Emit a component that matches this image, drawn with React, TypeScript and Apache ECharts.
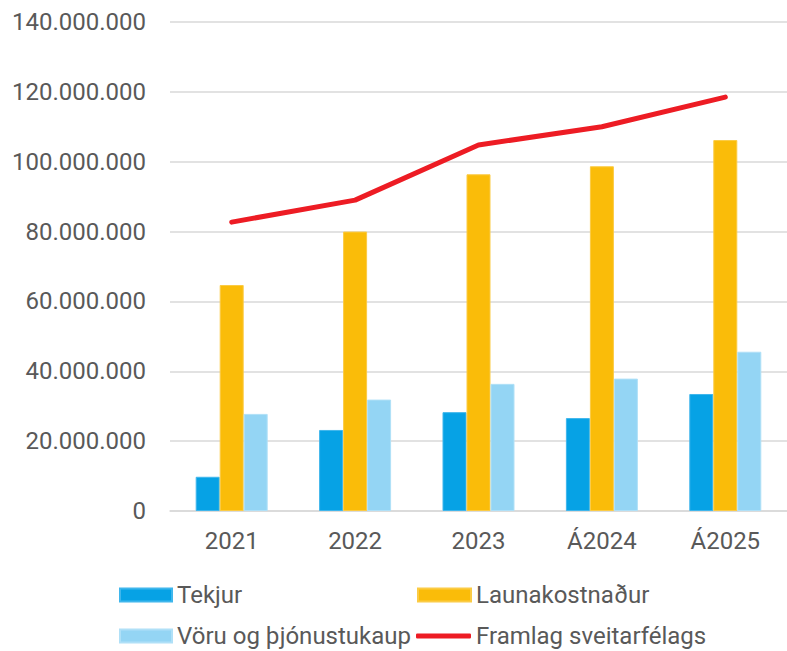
import React, { useEffect, useRef } from "react";
import * as echarts from "echarts";

// Categories on the x axis
const years = ["2021", "2022", "2023", "Á2024", "Á2025"];

// Series values (ISK)
const tekjur = [9800000, 23200000, 28300000, 26600000, 33500000];
const launakostnadur = [64700000, 80000000, 96400000, 98700000, 106200000];
const voruOgThjonustukaup = [27800000, 31900000, 36400000, 37900000, 45600000];
const framlagSveitarfelags = [82700000, 89000000, 104800000, 110000000, 118500000];

// Value axis range
const yMin = 0;
const yMax = 140000000;
const yStep = 20000000;

const FONT = "Roboto, 'Noto Sans', sans-serif";
const TEXT = "#595959";

const formatIs = (v: number) =>
  String(Math.round(v)).replace(/\B(?=(\d{3})+(?!\d))/g, ".");

// One legend entry per block so the 2x2 layout is placed exactly
const legendItem = (
  name: string,
  left: number,
  top: number,
  icon: string,
  itemWidth: number,
  itemHeight: number
) => ({
  data: [{ name, icon }],
  left,
  top,
  padding: 0,
  itemWidth,
  itemHeight,
  selectedMode: false,
  textStyle: {
    fontFamily: FONT,
    fontSize: 24,
    color: TEXT,
    lineHeight: 24,
  },
});

export default function App() {
  const ref = useRef<HTMLDivElement | null>(null);

  useEffect(() => {
    if (!ref.current) return;
    const chart = echarts.init(ref.current, undefined, { renderer: "svg" });

    chart.setOption({
      animation: false,
      backgroundColor: "#ffffff",
      textStyle: { fontFamily: FONT },
      grid: { left: 170, right: -8, top: 22, bottom: 140, containLabel: false },
      legend: [
        legendItem("Tekjur", 119, 583, "rect", 52, 13),
        legendItem("Launakostnaður", 417, 583, "rect", 53, 13),
        legendItem("Vöru og þjónustukaup", 119, 624, "rect", 52, 13),
        legendItem("Framlag sveitarfélags", 416, 624, "roundRect", 55, 5),
      ],
      xAxis: {
        type: "category",
        data: years,
        axisLine: { show: true, lineStyle: { color: "#d9d9d9", width: 1.5 } },
        axisTick: { show: false },
        axisLabel: {
          color: TEXT,
          fontFamily: FONT,
          fontSize: 24,
          margin: 18,
        },
      },
      yAxis: {
        type: "value",
        min: yMin,
        max: yMax,
        interval: yStep,
        axisLine: { show: false },
        axisTick: { show: false },
        splitLine: { lineStyle: { color: "#d9d9d9", width: 1.5 } },
        axisLabel: {
          color: TEXT,
          fontFamily: FONT,
          fontSize: 24,
          margin: 24,
          formatter: (v: number) => formatIs(v),
        },
      },
      series: [
        {
          name: "Tekjur",
          type: "bar",
          data: tekjur,
          barWidth: 24,
          barGap: "0%",
          itemStyle: { color: "#06A2E5", borderColor: "#3FB6EC", borderWidth: 1 },
        },
        {
          name: "Launakostnaður",
          type: "bar",
          data: launakostnadur,
          barWidth: 24,
          barGap: "0%",
          itemStyle: { color: "#FABC09", borderColor: "#FBCB45", borderWidth: 1 },
        },
        {
          name: "Vöru og þjónustukaup",
          type: "bar",
          data: voruOgThjonustukaup,
          barWidth: 24,
          barGap: "0%",
          itemStyle: { color: "#94D5F4", borderColor: "#B0E0F7", borderWidth: 1 },
        },
        {
          name: "Framlag sveitarfélags",
          type: "line",
          data: framlagSveitarfelags,
          symbol: "none",
          lineStyle: { color: "#ED1C24", width: 5, cap: "round", join: "round" },
          itemStyle: { color: "#ED1C24" },
          z: 5,
        },
      ],
    });

    return () => chart.dispose();
  }, []);

  return (
    <div
      ref={ref}
      style={{ position: "fixed", left: 0, top: 0, width: 787, height: 651 }}
    />
  );
}
